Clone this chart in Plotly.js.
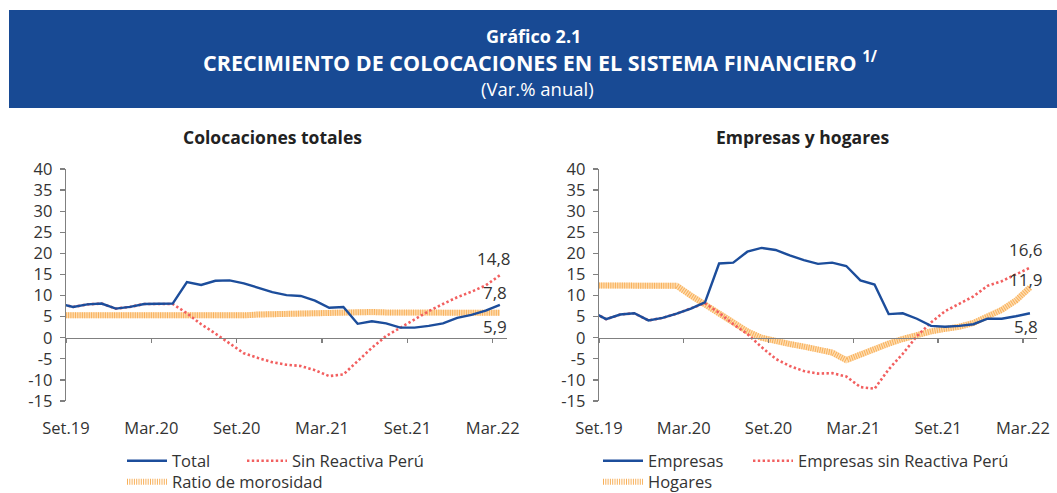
<!DOCTYPE html>
<html>
<head>
<meta charset="utf-8">
<script src="https://cdn.plot.ly/plotly-3.0.1.min.js"></script>
<style>
html,body{margin:0;padding:0;background:#fff;}
#chart{width:1057px;height:493px;}
</style>
</head>
<body>
<div id="chart"></div>
<script>
// ---------------- DATA ----------------
const months = ['Ago.19','Set.19','Oct.19','Nov.19','Dic.19','Ene.20','Feb.20','Mar.20','Abr.20','May.20','Jun.20','Jul.20','Ago.20','Set.20','Oct.20','Nov.20','Dic.20','Ene.21','Feb.21','Mar.21','Abr.21','May.21','Jun.21','Jul.21','Ago.21','Set.21','Oct.21','Nov.21','Dic.21','Ene.22','Feb.22','Mar.22'];
const tickLabels = ['Set.19','Mar.20','Set.20','Mar.21','Set.21','Mar.22'];
const yTicks = [-15,-10,-5,0,5,10,15,20,25,30,35,40];

// Colocaciones totales
const total = [8.1,7.3,7.9,8.1,6.9,7.3,8.0,8.0,8.1,13.2,12.5,13.5,13.6,12.9,11.8,10.8,10.1,9.9,8.8,7.1,7.3,3.3,3.9,3.4,2.4,2.4,2.8,3.4,4.7,5.4,6.4,7.8];
const sinReactiva = [8.1,7.3,7.9,8.1,6.9,7.3,8.0,8.0,8.0,5.8,3.2,1.0,-1.3,-3.7,-4.8,-5.8,-6.4,-6.7,-7.7,-9.1,-8.7,-5.5,-2.4,0.4,2.4,4.5,6.3,8.0,9.6,10.9,12.4,14.8];
const morosidad = [5.3,5.3,5.3,5.3,5.2,5.2,5.3,5.3,5.4,5.2,5.1,5.1,5.2,5.3,5.5,5.6,5.8,5.9,6.0,6.1,6.2,6.1,6.1,6.0,6.0,6.0,5.9,5.9,5.9,5.9,5.9,5.9];

// Empresas y hogares
const empresas = [6.2,4.4,5.5,5.8,4.1,4.7,5.7,6.9,8.4,17.6,17.8,20.4,21.3,20.8,19.5,18.4,17.5,17.8,17.0,13.6,12.6,5.6,5.8,4.5,2.8,2.6,2.8,3.2,4.5,4.5,5.1,5.8];
const empresasSinReactiva = [6.2,4.4,5.5,5.8,4.1,4.7,5.7,6.9,8.2,5.9,3.2,0.9,-2.2,-5.0,-6.7,-7.9,-8.5,-8.4,-9.2,-11.7,-12.1,-7.5,-3.8,0.4,3.6,6.3,8.0,9.8,12.3,13.4,15.0,16.6];
const hogares = [12.4,12.4,12.4,12.3,12.1,12.2,12.3,10.0,7.8,5.6,3.4,1.5,0.0,-0.9,-1.5,-2.1,-2.8,-3.5,-5.3,-4.0,-2.4,-1.4,-0.3,0.7,1.5,2.1,2.6,3.5,5.0,6.6,8.8,11.9];

// ---------------- STYLE ----------------
const W = 1057, H = 493;
const FONT = 'Open Sans, Noto Sans, sans-serif';
const TXT = '#333333';
const AXC = '#808080';
const BLUE = '#1C4D9B';
const RED = '#F25F5F';
const OR_LIGHT = '#FEDDB2';
const OR_DARK = '#F8B05A';

const xIdx = months.map((m, i) => i);
const tickVals = tickLabels.map(l => months.indexOf(l) - 0.5);
const xRange = [0.5, months.length - 0.5];

const px = v => v / W;
const py = v => (H - v) / H;

const yDom = [py(401), py(169)];
const zeroPos = yDom[0] + (yDom[1] - yDom[0]) * (0 - (-15)) / (40 - (-15));
const leftDom = [px(66), px(507)];
const rightDom = [px(599), px(1037)];

function fmt(v){ return v.toFixed(1).replace('.', ','); }

function labelAxis(dom, anchor){
  return {
    domain: dom, anchor: anchor, range: xRange, type: 'linear',
    tickmode: 'array', tickvals: tickVals, ticktext: tickLabels,
    ticks: 'outside', ticklen: 12, tickcolor: 'rgba(0,0,0,0)',
    showline: false, showgrid: false, zeroline: false,
    tickfont: {family: FONT, size: 16.5, color: TXT}, fixedrange: true
  };
}
function lineAxis(over){
  return {
    overlaying: over, anchor: 'free', position: zeroPos, range: xRange, type: 'linear',
    tickmode: 'array', tickvals: tickVals, showticklabels: false,
    ticks: 'outside', ticklen: 4, tickwidth: 1.3, tickcolor: AXC,
    showline: true, linecolor: AXC, linewidth: 1.3,
    showgrid: false, zeroline: false, fixedrange: true
  };
}
function valAxis(anchor){
  return {
    domain: yDom, anchor: anchor, range: [-15, 40],
    tickmode: 'array', tickvals: yTicks, ticktext: yTicks.map(String),
    ticks: 'outside', ticklen: 5, tickwidth: 1.3, tickcolor: AXC,
    ticklabelstandoff: 4,
    showline: true, linecolor: AXC, linewidth: 1.3,
    showgrid: false, zeroline: false,
    tickfont: {family: FONT, size: 16.5, color: TXT}, fixedrange: true
  };
}

function legendAt(x, y){
  return {
    x: px(x), y: py(y), xanchor: 'left', yanchor: 'middle',
    orientation: 'h', bgcolor: 'rgba(0,0,0,0)', borderwidth: 0,
    itemwidth: 40, font: {family: FONT, size: 16.5, color: TXT}
  };
}

const traces = [
  // Left chart
  {x: xIdx, y: morosidad, xaxis: 'x', yaxis: 'y', mode: 'lines', showlegend: false, hoverinfo: 'skip',
   line: {color: OR_LIGHT, width: 6}},
  {x: xIdx, y: morosidad, xaxis: 'x', yaxis: 'y', mode: 'lines', name: 'Ratio de morosidad', legend: 'legend3',
   line: {color: OR_DARK, width: 6, dash: '1px,1.3px'}},
  {x: xIdx, y: sinReactiva, xaxis: 'x', yaxis: 'y', mode: 'lines', name: 'Sin Reactiva Perú', legend: 'legend2',
   line: {color: RED, width: 2.6, dash: '2.4px,2.4px'}},
  {x: xIdx, y: total, xaxis: 'x', yaxis: 'y', mode: 'lines', name: 'Total', legend: 'legend',
   line: {color: BLUE, width: 2.4}},
  {x: [xIdx[0]], y: [null], xaxis: 'x3', yaxis: 'y', mode: 'lines', showlegend: false, hoverinfo: 'skip'},
  // Right chart
  {x: xIdx, y: hogares, xaxis: 'x2', yaxis: 'y2', mode: 'lines', showlegend: false, hoverinfo: 'skip',
   line: {color: OR_LIGHT, width: 6}},
  {x: xIdx, y: hogares, xaxis: 'x2', yaxis: 'y2', mode: 'lines', name: 'Hogares', legend: 'legend6',
   line: {color: OR_DARK, width: 6, dash: '1px,1.3px'}},
  {x: xIdx, y: empresasSinReactiva, xaxis: 'x2', yaxis: 'y2', mode: 'lines', name: 'Empresas sin Reactiva Perú', legend: 'legend5',
   line: {color: RED, width: 2.6, dash: '2.4px,2.4px'}},
  {x: xIdx, y: empresas, xaxis: 'x2', yaxis: 'y2', mode: 'lines', name: 'Empresas', legend: 'legend4',
   line: {color: BLUE, width: 2.4}},
  {x: [xIdx[0]], y: [null], xaxis: 'x4', yaxis: 'y2', mode: 'lines', showlegend: false, hoverinfo: 'skip'}
];

const last = months.length - 1;
function endLabel(xr, yr, v, xs, ys){
  return {xref: xr, yref: yr, x: xIdx[last], y: v, text: fmt(v), showarrow: false,
          xanchor: 'center', yanchor: 'middle', xshift: xs, yshift: ys,
          font: {family: FONT, size: 17, color: TXT}};
}

const annotations = [
  {xref: 'paper', yref: 'paper', x: px(533), y: py(36), text: '<b>Gráfico 2.1</b>', showarrow: false,
   xanchor: 'center', yanchor: 'middle', font: {family: FONT, size: 18, color: '#ffffff'}},
  {xref: 'paper', yref: 'paper', x: px(540), y: py(61), text: '<b>CRECIMIENTO DE COLOCACIONES EN EL SISTEMA FINANCIERO <sup>1/</sup></b>', showarrow: false,
   xanchor: 'center', yanchor: 'middle', font: {family: FONT, size: 21.5, color: '#ffffff'}},
  {xref: 'paper', yref: 'paper', x: px(537), y: py(88), text: '(Var.% anual)', showarrow: false,
   xanchor: 'center', yanchor: 'middle', font: {family: FONT, size: 18.5, color: '#ffffff'}},
  {xref: 'paper', yref: 'paper', x: px(272), y: py(137), text: '<b>Colocaciones totales</b>', showarrow: false,
   xanchor: 'center', yanchor: 'middle', font: {family: FONT, size: 17.5, color: '#222222'}},
  {xref: 'paper', yref: 'paper', x: px(802), y: py(137), text: '<b>Empresas y hogares</b>', showarrow: false,
   xanchor: 'center', yanchor: 'middle', font: {family: FONT, size: 17.5, color: '#222222'}},
  endLabel('x', 'y', sinReactiva[last], -6, 17),
  endLabel('x', 'y', total[last], -5, 12),
  endLabel('x', 'y', morosidad[last], -5, -14),
  endLabel('x2', 'y2', empresasSinReactiva[last], -4, 18),
  endLabel('x2', 'y2', hogares[last], -4, 8),
  endLabel('x2', 'y2', empresas[last], -4, -13)
];

const layout = {
  width: W, height: H,
  margin: {l: 0, r: 0, t: 0, b: 0, pad: 0, autoexpand: false},
  paper_bgcolor: '#ffffff', plot_bgcolor: 'rgba(0,0,0,0)',
  font: {family: FONT, color: TXT},
  xaxis: labelAxis(leftDom, 'y'),
  xaxis2: labelAxis(rightDom, 'y2'),
  xaxis3: lineAxis('x'),
  xaxis4: lineAxis('x2'),
  yaxis: valAxis('x'),
  yaxis2: valAxis('x2'),
  legend: legendAt(122, 461),
  legend2: legendAt(242, 461),
  legend3: legendAt(122, 482),
  legend4: legendAt(598, 461),
  legend5: legendAt(748, 461),
  legend6: legendAt(598, 482),
  shapes: [
    {type: 'rect', xref: 'paper', yref: 'paper', x0: px(9), x1: 1, y0: py(108), y1: py(10),
     fillcolor: '#184A94', line: {width: 0}, layer: 'below'}
  ],
  annotations: annotations,
  showlegend: true
};

Plotly.newPlot('chart', traces, layout, {displayModeBar: false, staticPlot: true});
</script>
</body>
</html>
